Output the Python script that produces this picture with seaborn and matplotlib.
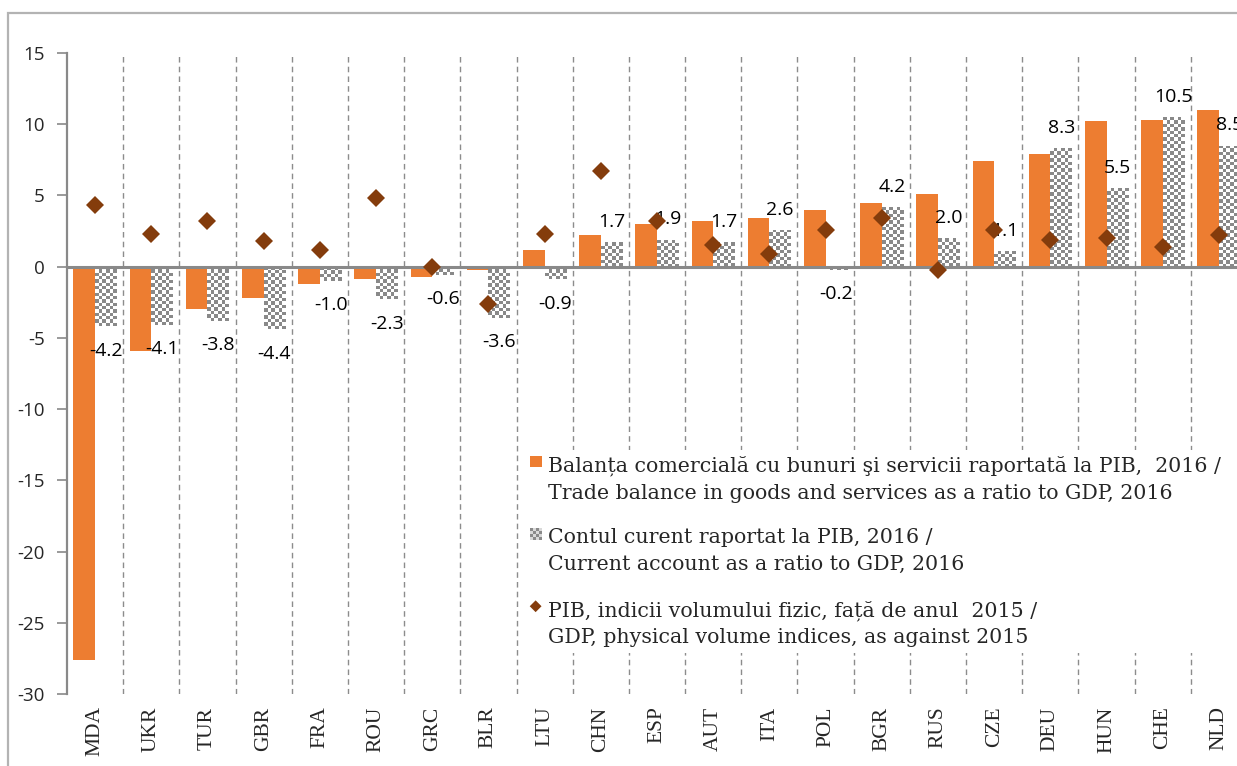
import numpy as np
import pandas as pd
import matplotlib
matplotlib.use("Agg")
import matplotlib.pyplot as plt
import seaborn as sns
from matplotlib.patches import Rectangle, Polygon
from matplotlib.legend_handler import HandlerBase

countries = ["MDA", "UKR", "TUR", "GBR", "FRA", "ROU", "GRC", "BLR", "LTU", "CHN", "ESP",
             "AUT", "ITA", "POL", "BGR", "RUS", "CZE", "DEU", "HUN", "CHE", "NLD"]
trade_balance = [-27.6, -5.9, -3.0, -2.2, -1.2, -0.9, -0.7, -0.2, 1.2, 2.2, 3.0,
                 3.2, 3.4, 4.0, 4.5, 5.1, 7.4, 7.9, 10.2, 10.3, 11.0]
current_account = [-4.2, -4.1, -3.8, -4.4, -1.0, -2.3, -0.6, -3.6, -0.9, 1.7, 1.9,
                   1.7, 2.6, -0.2, 4.2, 2.0, 1.1, 8.3, 5.5, 10.5, 8.5]
gdp_index = [4.3, 2.3, 3.2, 1.8, 1.2, 4.8, 0.0, -2.6, 2.3, 6.7, 3.2,
             1.5, 0.9, 2.6, 3.4, -0.2, 2.6, 1.9, 2.0, 1.4, 2.2]
y_ticks = [-30, -25, -20, -15, -10, -5, 0, 5, 10, 15]
series_names = ["tb", "ca"]
legend_labels = [
    "Balanța comercială cu bunuri şi servicii raportată la PIB,  2016 /\n"
    "Trade balance in goods and services as a ratio to GDP, 2016",
    "Contul curent raportat la PIB, 2016 /\nCurrent account as a ratio to GDP, 2016",
    "PIB, indicii volumului fizic, față de anul  2015 /\n"
    "GDP, physical volume indices, as against 2015",
]

ORANGE = "#ED7D31"
BROWN = "#843C0C"
GRAY = "#898989"
CHECK = np.array([0.54, 0.54, 0.54])

sns.set_theme(style="white")
plt.rcParams["axes.unicode_minus"] = False

W, H = 1237, 766
fig = plt.figure(figsize=(W / 100, H / 100), dpi=100)
ax = fig.add_axes([67 / W, 1 - 694 / H, 1180 / W, 641 / H])

df = pd.DataFrame({
    "country": countries * 2,
    "value": trade_balance + current_account,
    "series": [series_names[0]] * len(countries) + [series_names[1]] * len(countries),
})
sns.barplot(data=df, x="country", y="value", hue="series", order=countries,
            hue_order=series_names, palette={"tb": ORANGE, "ca": "white"},
            width=0.77, dodge=True, legend=False, saturation=1, errorbar=None,
            linewidth=0, ax=ax, zorder=2)
tb_bars, ca_bars = ax.containers[0], ax.containers[1]

n = len(countries)
ax.set_xlim(-0.5, n - 0.5)
ax.set_ylim(-30, 15)
px_x = ax.bbox.width / n
px_y = ax.bbox.height / 45
cell = 3.4
for bar in ca_bars:
    x0, w, h = bar.get_x(), bar.get_width(), bar.get_height()
    ncols = max(1, int(round(w * px_x / cell)))
    nrows = max(1, int(round(abs(h) * px_y / cell)))
    pat = np.add.outer(np.arange(nrows), np.arange(ncols)) % 2
    rgb = np.where(pat[..., None] == 1, CHECK, np.array([1.0, 1.0, 1.0]))
    y0, y1 = sorted([0, h])
    im = ax.imshow(rgb, extent=(x0, x0 + w, y0, y1), aspect="auto",
                   interpolation="nearest", origin="lower", zorder=2.5)
    im.set_clip_path(bar)

sns.pointplot(x=countries, y=gdp_index, order=countries, linestyle="none",
              marker="D", markersize=9.5, markeredgewidth=0, color=BROWN,
              errorbar=None, ax=ax, zorder=4)

# data labels on current account bars
pos_labels = [f"{v:.1f}" if v > 0 else "" for v in current_account]
neg_labels = [f"{v:.1f}" if v < 0 else "" for v in current_account]
ax.bar_label(ca_bars, labels=pos_labels, padding=8, fontsize=14,
             family="Open Sans", color="black", zorder=3)
ax.bar_label(ca_bars, labels=neg_labels, padding=11, fontsize=14,
             family="Open Sans", color="black", zorder=3)

# axes styling
ax.set_xlim(-0.5, n - 0.5)
ax.set_ylim(-30, 15)
ax.set_xlabel("")
ax.set_ylabel("")
ax.set_yticks(y_ticks)
ax.set_yticklabels([str(v) for v in y_ticks], fontsize=13.5, family="Open Sans")
ax.set_xticks(range(n))
ax.set_xticklabels(countries, rotation=90, fontsize=15.5, family="Liberation Serif")
ax.tick_params(axis="x", length=0, pad=9)
ax.tick_params(axis="y", length=7, width=1.2, color=GRAY, direction="out", pad=9, left=True)
for s in ["top", "right", "bottom"]:
    ax.spines[s].set_visible(False)
ax.spines["left"].set_color(GRAY)
ax.spines["left"].set_linewidth(1.6)
ax.axhline(0, color=GRAY, lw=2.2, zorder=3.5)
for b in np.arange(0.5, n - 0.5, 1):
    ax.axvline(b, color="#8c8c8c", lw=1.0, ls=(0, (4, 3)), zorder=1)
ax.grid(False)


class Handler(HandlerBase):
    def __init__(self, kind, dy):
        super().__init__()
        self.kind = kind
        self.dy = dy

    def create_artists(self, legend, orig_handle, xdescent, ydescent, width, height,
                       fontsize, trans):
        s = 8.5
        x1 = width - xdescent
        x0 = x1 - s
        cy = height / 2 - ydescent + self.dy
        y0 = cy - s / 2
        arts = []
        if self.kind == "square":
            arts.append(Rectangle((x0, y0), s, s, facecolor=ORANGE, edgecolor="none",
                                  transform=trans))
        elif self.kind == "check":
            k = 4
            c = s / k
            for i in range(k):
                for j in range(k):
                    col = CHECK if (i + j) % 2 else (0.85, 0.85, 0.85)
                    arts.append(Rectangle((x0 + i * c, y0 + j * c), c, c, facecolor=col,
                                          edgecolor="none", transform=trans))
        else:
            cx = x0 + s / 2
            r = s * 0.5
            arts.append(Polygon([(cx, cy + r), (cx + r, cy), (cx, cy - r), (cx - r, cy)],
                                closed=True, facecolor=BROWN, edgecolor="none",
                                transform=trans))
        return arts


h1, h2, h3 = object(), object(), object()
dy = 12.8
leg = ax.legend([h1, h2, h3], legend_labels,
                handler_map={h1: Handler("square", dy), h2: Handler("check", dy),
                             h3: Handler("diamond", dy)},
                loc="upper left", bbox_to_anchor=(522 / W, 1 - 450 / H),
                bbox_transform=fig.transFigure, frameon=True, fancybox=False,
                framealpha=1, facecolor="white", edgecolor="none",
                prop={"family": "DejaVu Serif", "size": 14.8},
                handlelength=0.7, handletextpad=0.3, labelspacing=1.25,
                borderpad=0.25, borderaxespad=0)
for t in leg.get_texts():
    t.set_linespacing(1.53)
leg.set_zorder(5)

# outer chart border (cropped)
fig.add_artist(Rectangle((8 / W, -0.1), 1.2, (1 - 13 / H) + 0.1, transform=fig.transFigure,
                         fill=False, edgecolor="#b3b3b3", lw=1.6))

fig.savefig("out.png", dpi=100)
